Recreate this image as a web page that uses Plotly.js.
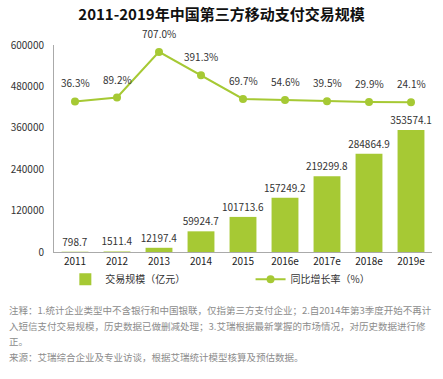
<!DOCTYPE html>
<html><head><meta charset="utf-8">
<script src="https://cdn.plot.ly/plotly-3.0.1.min.js"></script>
<style>html,body{margin:0;padding:0;background:#fff;}#chart{width:443px;height:379px;}</style>
</head><body><div id="chart"></div>
<script>
const years = ["2011","2012","2013","2014","2015","2016e","2017e","2018e","2019e"];
const volume = [798.7, 1511.4, 12197.4, 59924.7, 101713.6, 157249.2, 219299.8, 284864.9, 353574.1];
const growth = [36.3, 89.2, 707.0, 391.3, 69.7, 54.6, 39.5, 29.9, 24.1];
const yTicks = [0, 120000, 240000, 360000, 480000, 600000];
const notes = [
  "注释：1.统计企业类型中不含银行和中国银联，仅指第三方支付企业；2.自2014年第3季度开始不再计",
  "入短信支付交易规模，历史数据已做删减处理；3.艾瑞根据最新掌握的市场情况，对历史数据进行修",
  "正。",
  "来源：艾瑞综合企业及专业访谈，根据艾瑞统计模型核算及预估数据。"
];

const F = '"Noto Sans CJK SC", "Noto Sans", sans-serif';
const green = '#a6c934';

const traces = [
  {type:'bar', x: years, y: volume, name:'交易规模（亿元）', marker:{color: green},
   width: 0.64, text: volume.map(v => v.toFixed(1)), textposition:'outside', constraintext:'none',
   textfont:{size:10, color:'#333', family:F}, cliponaxis:false, legend:'legend'},
  {type:'scatter', mode:'lines+markers', x: years, y: growth, yaxis:'y2', name:'同比增长率（%）',
   line:{color: green, width:2}, marker:{color: green, size:8}, legend:'legend2'}
];

const annotations = growth.map((g,i) => ({
  x: i, y: g, xref:'x', yref:'y2', text: g.toFixed(1)+'%', showarrow:false,
  yanchor:'bottom', yshift:9, font:{size:10, color:'#333', family:F}
}));
notes.forEach((t,i) => annotations.push({
  xref:'paper', yref:'paper', x: -0.125, y: 0, xanchor:'left', yanchor:'middle',
  yshift: -58 - i*15.5, text: t, showarrow:false, font:{size:9.5, color:'#8c8c8c', family:F}
}));

const legendBase = {orientation:'h', y:-0.062, yanchor:'top', xanchor:'left',
  font:{size:10, color:'#333', family:F}, itemwidth:30, bgcolor:'rgba(0,0,0,0)'};

const layout = {
  width:443, height:379,
  margin:{l:54, r:11, t:45, b:127},
  paper_bgcolor:'#fff', plot_bgcolor:'#fff',
  font:{family:F, color:'#333'},
  title:{text:'<b>2011-2019年中国第三方移动支付交易规模</b>', x:0.5, xanchor:'center', y:0.962, yanchor:'middle',
         font:{size:15, color:'#111', family:F}},
  showlegend:true,
  legend: Object.assign({}, legendBase, {x:0.03}),
  legend2: Object.assign({}, legendBase, {x:0.52}),
  bargap:0.36,
  xaxis:{type:'category', range:[-0.5, 8.5], showline:true, linecolor:'#aaa', linewidth:1,
         ticks:'', tickfont:{size:10, color:'#222', family:F}, showgrid:false, fixedrange:true},
  yaxis:{range:[0, 600000], tickvals: yTicks, ticktext: yTicks.map(String), showline:true,
         linecolor:'#aaa', linewidth:1, showgrid:false, zeroline:false, ticks:'', ticklabelstandoff:7,
         tickfont:{size:10, color:'#333', family:F}},
  yaxis2:{overlaying:'y', side:'right', range:[-2000, 800], visible:false, showgrid:false, zeroline:false},
  annotations: annotations
};

Plotly.newPlot('chart', traces, layout, {displayModeBar:false, staticPlot:true});
</script></body></html>
